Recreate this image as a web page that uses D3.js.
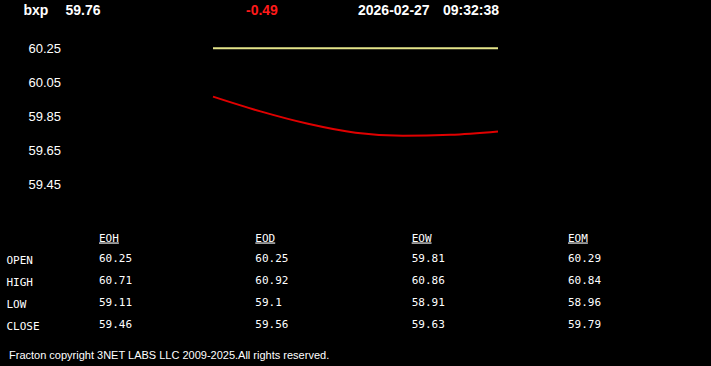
<!DOCTYPE html>
<html>
<head>
<meta charset="utf-8">
<script src="https://cdn.jsdelivr.net/npm/d3@7"></script>
<style>
  html, body { margin: 0; padding: 0; background: #000; overflow: hidden; }
  svg { display: block; }
</style>
</head>
<body>
<script>
// ---- data ----
const symbol = "bxp";
const lastPrice = "59.76";
const change = "-0.49";
const dateStr = "2026-02-27";
const timeStr = "09:32:38";

const yTicks = [60.25, 60.05, 59.85, 59.65, 59.45];
const openLevel = 60.25;
const priceSeries = [59.965, 59.878, 59.805, 59.752, 59.734, 59.740, 59.76];

const tableColumns = ["EOH", "EOD", "EOW", "EOM"];
const tableRows = ["OPEN", "HIGH", "LOW", "CLOSE"];
const openVals  = ["60.25", "60.25", "59.81", "60.29"];
const highVals  = ["60.71", "60.92", "60.86", "60.84"];
const lowVals   = ["59.11", "59.1",  "58.91", "58.96"];
const closeVals = ["59.46", "59.56", "59.63", "59.79"];
const footer = "Fracton copyright 3NET LABS LLC 2009-2025.All rights reserved.";

// ---- drawing ----
const W = 711, H = 366;
const svg = d3.select("body").append("svg").attr("width", W).attr("height", H)
  .style("background", "#000");

// header
const hdr = svg.append("g").attr("font-family", "Arial, 'Liberation Sans', sans-serif")
  .attr("font-weight", "bold").attr("font-size", 14);
hdr.append("text").attr("x", 23.5).attr("y", 15).attr("fill", "#fff").text(symbol);
hdr.append("text").attr("x", 65.5).attr("y", 15).attr("fill", "#fff").text(lastPrice);
hdr.append("text").attr("x", 246).attr("y", 15).attr("fill", "#ff1a1a").text(change);
hdr.append("text").attr("x", 358).attr("y", 15).attr("fill", "#fff").text(dateStr);
hdr.append("text").attr("x", 443).attr("y", 15).attr("fill", "#fff").text(timeStr);

// scales
const y = d3.scaleLinear().domain([59.45, 60.25]).range([184, 48.3]);
const x = d3.scaleLinear().domain([0, priceSeries.length - 1]).range([213, 498]);

// y axis labels
const yAxis = svg.append("g").attr("transform", "translate(61,0)")
  .call(d3.axisLeft(y).tickValues(yTicks).tickSize(0).tickPadding(0)
    .tickFormat(d3.format(".2f")));
yAxis.select(".domain").remove();
yAxis.selectAll("text").attr("fill", "#fff").attr("font-size", 13)
  .attr("font-family", "Arial, 'Liberation Sans', sans-serif");

// open level line
svg.append("line")
  .attr("x1", x(0)).attr("x2", x(priceSeries.length - 1))
  .attr("y1", y(openLevel)).attr("y2", y(openLevel))
  .attr("stroke", "#e4e48a").attr("stroke-width", 2);

// price curve
const line = d3.line().x((d, i) => x(i)).y(d => y(d)).curve(d3.curveMonotoneX);
svg.append("path").datum(priceSeries).attr("d", line)
  .attr("fill", "none").attr("stroke", "#e00000").attr("stroke-width", 2);

// table
const colX = d3.scalePoint().domain(tableColumns).range([99, 568]);
const rowY = d3.scalePoint().domain(tableRows).range([262, 328]);
const tbl = svg.append("g").attr("font-family", "'DejaVu Sans Mono', monospace")
  .attr("font-size", 11).attr("fill", "#fff");

tbl.selectAll("text.col").data(tableColumns).join("text").attr("class", "col")
  .attr("x", d => colX(d)).attr("y", 241.5)
  .style("text-decoration", "underline").text(d => d);

tbl.selectAll("text.row").data(tableRows).join("text").attr("class", "row")
  .attr("x", 6.5).attr("y", d => rowY(d) + 2).text(d => d);

const allVals = [openVals, highVals, lowVals, closeVals];
tableRows.forEach((r, ri) => {
  tbl.selectAll("text.v" + ri).data(allVals[ri]).join("text").attr("class", "v" + ri)
    .attr("x", (d, ci) => colX(tableColumns[ci])).attr("y", rowY(r)).text(d => d);
});

// footer
svg.append("text").attr("x", 9).attr("y", 359)
  .attr("font-family", "Arial, 'Liberation Sans', sans-serif").attr("font-size", 11)
  .attr("fill", "#fff").text(footer);
</script>
</body>
</html>
